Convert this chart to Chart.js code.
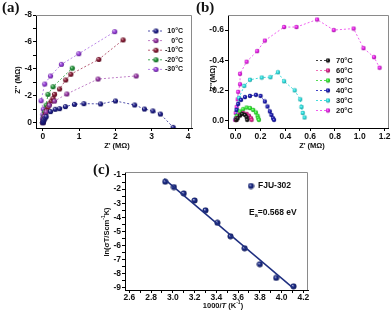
<!DOCTYPE html>
<html><head><meta charset="utf-8">
<script src="https://cdn.jsdelivr.net/npm/chart.js@4/dist/chart.umd.min.js"></script>
<style>
html,body{margin:0;padding:0;background:#fff;width:392px;height:320px;overflow:hidden;}
canvas{position:absolute;}
</style></head><body>
<canvas id="ca" style="left:0;top:0;width:196px;height:160px" width="196" height="160"></canvas>
<canvas id="cb" style="left:196px;top:0;width:196px;height:160px" width="196" height="160"></canvas>
<canvas id="cc" style="left:90px;top:150px;width:230px;height:170px" width="230" height="170"></canvas>
<script>
// ---------- Panel (a) data: Nyquist, low temperatures (MΩ) ----------
const aLabels = ['10°C', '0°C', '-10°C', '-20°C', '-30°C'];
const a10X = [0.0, 0.01, 0.03, 0.06, 0.09, 0.21, 0.34, 0.46, 0.62, 0.87, 1.13, 1.59, 2.00, 2.53, 2.80, 3.03, 3.24, 3.59];
const a10Y = [0.0, -0.08, -0.2, -0.33, -0.45, -0.82, -0.99, -1.04, -1.19, -1.36, -1.41, -1.39, -1.61, -1.31, -1.01, -0.87, -0.64, 0.35];
const a0X = [0.0, 0.01, 0.02, 0.04, 0.09, 0.18, 0.32, 0.66, 1.52, 2.57];
const a0Y = [0.0, -0.1, -0.22, -0.45, -0.8, -1.3, -1.6, -2.13, -3.24, -3.47];
const aM10X = [0.0, 0.02, 0.04, 0.07, 0.1, 0.14, 0.18, 0.23, 0.28, 0.32, 0.46, 0.63, 0.77, 1.54, 2.21];
const aM10Y = [0.0, -0.2, -0.4, -0.65, -0.9, -1.15, -1.4, -1.6, -1.8, -2.1, -2.5, -3.17, -3.6, -4.7, -6.15];
const aM20X = [0.0, 0.01, 0.03, 0.05, 0.09, 0.14, 0.28, 0.81];
const aM20Y = [0.0, -0.2, -0.45, -0.8, -1.3, -2.1, -2.67, -4.05];
const aM30X = [0.0, -0.01, 0.0, 0.01, -0.05, 0.05, 0.21, 0.51, 0.99, 1.98];
const aM30Y = [0.0, -0.3, -0.6, -1.0, -1.63, -2.87, -3.47, -4.33, -5.12, -6.76];
const aXTicks = [0, 1, 2, 3, 4];
const aXTickLabels = ['0', '1', '2', '3', '4'];
const aYTicks = [-8, -7, -6, -5, -4, -3, -2, -1, 0];
const aYTickLabels = ['-8', '', '-6', '', '-4', '', '-2', '', '0'];

// ---------- Panel (b) data: Nyquist, high temperatures (MΩ) ----------
const bLabels = ['70°C', '60°C', '50°C', '40°C', '30°C', '20°C'];
const b70X = [0.005, 0.016, 0.035, 0.053, 0.075, 0.088, 0.093];
const b70Y = [-0.004, -0.015, -0.033, -0.044, -0.037, -0.022, -0.004];
const b60X = [0.004, 0.008, 0.035, 0.061, 0.088, 0.107, 0.123, 0.128];
const b60Y = [-0.004, -0.015, -0.038, -0.049, -0.044, -0.031, -0.015, -0.004];
const b50X = [0.003, 0.008, 0.035, 0.06, 0.088, 0.115, 0.141, 0.163, 0.176, 0.181, 0.187];
const b50Y = [-0.005, -0.03, -0.06, -0.075, -0.086, -0.082, -0.07, -0.053, -0.031, -0.015, -0.004];
const b40X = [0.002, 0.008, 0.02, 0.043, 0.075, 0.115, 0.163, 0.2, 0.235, 0.256, 0.275, 0.288, 0.301, 0.309];
const b40Y = [-0.01, -0.07, -0.11, -0.137, -0.155, -0.163, -0.17, -0.163, -0.126, -0.093, -0.06, -0.037, -0.015, -0.004];
const b30X = [0.0, 0.008, 0.027, 0.069, 0.115, 0.21, 0.28, 0.34, 0.39, 0.475, 0.52, 0.53, 0.54, 0.555];
const b30Y = [-0.015, -0.07, -0.15, -0.23, -0.27, -0.285, -0.287, -0.32, -0.26, -0.2, -0.14, -0.09, -0.05, -0.02];
const b20X = [-0.005, 0.0, 0.008, 0.016, 0.02, 0.035, 0.035, 0.088, 0.173, 0.235, 0.39, 0.49, 0.656, 0.79, 0.95, 1.03, 1.115, 1.16];
const b20Y = [-0.004, -0.05, -0.09, -0.14, -0.19, -0.24, -0.31, -0.39, -0.46, -0.53, -0.62, -0.62, -0.67, -0.60, -0.61, -0.48, -0.42, -0.35];
const bXTicks = [0, 0.2, 0.4, 0.6, 0.8, 1.0, 1.2];
const bXTickLabels = ['0.0', '0.2', '0.4', '0.6', '0.8', '1.0', '1.2'];
const bYTicks = [-0.6, -0.4, -0.2, 0];
const bYTickLabels = ['-0.6', '-0.4', '-0.2', '0.0'];

// ---------- Panel (c) data: Arrhenius plot ----------
const cSeriesName = 'FJU-302';
const cX = [2.93, 3.01, 3.10, 3.20, 3.30, 3.41, 3.53, 3.66, 3.80, 3.95, 4.11];
const cY = [-1.48, -1.86, -2.31, -2.81, -3.51, -4.39, -5.35, -6.2, -7.33, -8.3, -8.9];
const cFitX = [2.92, 4.11];
const cFitY = [-1.28, -9.04];
const cXTicks = [2.6, 2.7, 2.8, 2.9, 3.0, 3.1, 3.2, 3.3, 3.4, 3.5, 3.6, 3.7, 3.8, 3.9, 4.0, 4.1, 4.2];
const cXTickLabels = ['2.6', '', '2.8', '', '3.0', '', '3.2', '', '3.4', '', '3.6', '', '3.8', '', '4.0', '', '4.2'];
const cYTicks = [-9, -8.5, -8, -7.5, -7, -6.5, -6, -5.5, -5, -4.5, -4, -3.5, -3, -2.5, -2, -1.5, -1];
const cYTickLabels = ['-9', '', '-8', '', '-7', '', '-6', '', '-5', '', '-4', '', '-3', '', '-2', '', '-1'];

// ---------- helpers ----------
const SANS = "'Liberation Sans', Arial, sans-serif";
const SERIF = "'Liberation Serif', 'Times New Roman', serif";
function pts(xs, ys) { return xs.map((x, i) => ({x: x, y: ys[i]})); }
function mix(hex, t, target) {
  const n = parseInt(hex.slice(1), 16);
  const r = (n >> 16) & 255, g = (n >> 8) & 255, b = n & 255;
  const f = v => Math.round(v + (target - v) * t);
  return 'rgb(' + f(r) + ',' + f(g) + ',' + f(b) + ')';
}
function ball(col, r) {
  const s = Math.ceil(r * 2 + 1);
  const c = document.createElement('canvas'); c.width = s; c.height = s;
  const g = c.getContext('2d');
  const cx = s / 2, cy = s / 2;
  const gr = g.createRadialGradient(cx - r * 0.35, cy - r * 0.35, r * 0.05, cx, cy, r);
  gr.addColorStop(0, mix(col, 0.65, 255));
  gr.addColorStop(0.45, col);
  gr.addColorStop(1, mix(col, 0.35, 0));
  g.fillStyle = gr; g.beginPath(); g.arc(cx, cy, r, 0, Math.PI * 2); g.fill();
  return c;
}
function ds(label, xs, ys, ptCol, lineCol, r, dashed) {
  return {
    label: label, data: pts(xs, ys), showLine: true,
    borderColor: lineCol, borderWidth: 1, borderDash: dashed ? [2, 2] : [],
    pointStyle: ball(ptCol, r), pointRadius: r, pointHoverRadius: r,
    backgroundColor: ptCol, tension: 0
  };
}
function axis(min, max, ticks, labels, reverse, fit, fontSize, pad) {
  return {
    type: 'linear', min: min, max: max, reverse: !!reverse,
    afterBuildTicks: s => { s.ticks = ticks.map(v => ({value: v})); },
    afterFit: fit,
    grid: {display: true, drawOnChartArea: false, drawTicks: true, tickLength: 3, color: '#000', lineWidth: 1},
    border: {display: true, color: '#000', width: 1},
    ticks: {autoSkip: false, maxRotation: 0, minRotation: 0, padding: (pad === undefined ? 1 : pad), color: '#111',
      font: {family: SANS, size: fontSize, weight: 'bold'},
      callback: (v, i) => labels[i]}
  };
}
function drawRich(ctx, item) {
  ctx.save();
  ctx.translate(item.x, item.y);
  if (item.rot) ctx.rotate(item.rot);
  ctx.textBaseline = 'middle';
  ctx.fillStyle = item.color || '#111';
  let w = 0;
  item.segs.forEach(s => { ctx.font = s.f; w += ctx.measureText(s.t).width; });
  let x = item.align === 'left' ? 0 : (item.align === 'right' ? -w : -w / 2);
  item.segs.forEach(s => {
    ctx.font = s.f; ctx.textAlign = 'left';
    ctx.fillText(s.t, x, s.dy || 0);
    x += ctx.measureText(s.t).width;
  });
  ctx.restore();
}
const deco = {
  id: 'deco',
  afterDraw(chart, args, o) {
    const ctx = chart.ctx, ca = chart.chartArea;
    ctx.save();
    ctx.strokeStyle = '#8a8a8a'; ctx.lineWidth = 1;
    ctx.beginPath();
    ctx.moveTo(ca.left, Math.round(ca.top) + 0.5); ctx.lineTo(Math.round(ca.right) - 0.5, Math.round(ca.top) + 0.5);
    ctx.lineTo(Math.round(ca.right) - 0.5, ca.bottom);
    ctx.stroke();
    if (o.legend) {
      const L = o.legend;
      chart.data.datasets.forEach((d, i) => {
        if (d.noLegend) return;
        const y = L.y + i * L.dy;
        if (L.line) {
          ctx.strokeStyle = d.borderColor; ctx.lineWidth = 1; ctx.setLineDash(d.borderDash || []);
          ctx.beginPath(); ctx.moveTo(L.x0, y); ctx.lineTo(L.x1, y); ctx.stroke();
          ctx.setLineDash([]);
        }
        const img = d.pointStyle;
        ctx.drawImage(img, L.mx - img.width / 2, y - img.height / 2);
        ctx.font = L.font; ctx.fillStyle = '#111'; ctx.textBaseline = 'middle';
        ctx.textAlign = L.align || 'left';
        ctx.fillText(d.label, L.tx, y);
      });
    }
    (o.texts || []).forEach(t => drawRich(ctx, t));
    ctx.restore();
  }
};
Chart.register(deco);
function make(id, datasets, xs, ys, pad, decoOpts) {
  return new Chart(document.getElementById(id), {
    type: 'scatter',
    data: {datasets: datasets},
    options: {
      responsive: false, animation: false, devicePixelRatio: 1,
      layout: {padding: pad},
      plugins: {legend: {display: false}, tooltip: {enabled: false}, deco: decoOpts},
      scales: {x: xs, y: ys}
    }
  });
}

// ---------- Panel (a) ----------
const fB = s => 'bold ' + s + 'px ' + SANS;
make('ca', [
  ds(aLabels[0], a10X, a10Y, '#1e1e8c', '#5050aa', 2.6, true),
  ds(aLabels[1], a0X, a0Y, '#9a35a8', '#c080c8', 2.6, true),
  ds(aLabels[2], aM10X, aM10Y, '#8a1a35', '#b86078', 2.6, true),
  ds(aLabels[3], aM20X, aM20Y, '#22993a', '#48aa58', 2.6, true),
  ds(aLabels[4], aM30X, aM30Y, '#9b40e0', '#bb88e8', 2.6, true)
],
  axis(-0.19, 4.11, aXTicks, aXTickLabels, false, s => { s.height = 32; }, 8.5),
  axis(-8, 0.4, aYTicks, aYTickLabels, true, s => { s.width = 36; }, 8.5),
  {top: 15, right: 4, left: 0, bottom: 0},
  {
    legend: {line: true, x0: 148, x1: 163, mx: 156, tx: 183, align: 'right', y: 31, dy: 9.6, font: fB(7)},
    texts: [
      {x: 2, y: 8, align: 'left', segs: [{t: '(a)', f: 'bold 15px ' + SERIF}]},
      {x: 18, y: 80, rot: -Math.PI / 2, segs: [{t: "Z'' (MΩ)", f: fB(7.5)}]},
      {x: 117, y: 146, segs: [{t: "Z' (MΩ)", f: fB(7.5)}]}
    ]
  });

// ---------- Panel (b) ----------
make('cb', [
  ds(bLabels[0], b70X, b70Y, '#151515', '#444444', 2.2, true),
  ds(bLabels[1], b60X, b60Y, '#e0208c', '#f070b8', 2.2, true),
  ds(bLabels[2], b50X, b50Y, '#33ee33', '#55dd55', 2.2, true),
  ds(bLabels[3], b40X, b40Y, '#1a1ab4', '#4545c8', 2.2, true),
  ds(bLabels[4], b30X, b30Y, '#2ee6e6', '#44dddd', 2.2, true),
  ds(bLabels[5], b20X, b20Y, '#ee22ee', '#f060f0', 2.2, true)
],
  axis(-0.062, 1.234, bXTicks, bXTickLabels, false, s => { s.height = 32; }, 8.5),
  axis(-0.7, 0.05, bYTicks, bYTickLabels, true, s => { s.width = 32; }, 8.5),
  {top: 15, right: 2, left: 0, bottom: 0},
  {
    legend: {line: true, x0: 120, x1: 136, mx: 132, tx: 140, align: 'left', y: 60.5, dy: 10, font: fB(7.5)},
    texts: [
      {x: 0, y: 8, align: 'left', segs: [{t: '(b)', f: 'bold 15px ' + SERIF}]},
      {x: 17, y: 78, rot: -Math.PI / 2, segs: [{t: "Z''(MΩ)", f: fB(7.5)}]},
      {x: 116, y: 146, segs: [{t: "Z' (MΩ)", f: fB(7.5)}]}
    ]
  });

// ---------- Panel (c) ----------
const cPts = ds(cSeriesName, cX, cY, '#1a2a88', '#1a2a88', 3, false);
cPts.showLine = false;
const cFit = {label: 'fit', noLegend: true, data: pts(cFitX, cFitY), showLine: true,
  borderColor: '#1f2f80', borderWidth: 1.5, pointRadius: 0, tension: 0};
make('cc', [cFit, cPts],
  axis(2.56, 4.243, cXTicks, cXTickLabels, false, s => { s.height = 30; }, 8.5, 0),
  axis(-9.16, -0.79, cYTicks, cYTickLabels, false, s => { s.width = 35; }, 8.5),
  {top: 22, right: 12, left: 0, bottom: 0},
  {
    legend: {line: false, mx: 161, tx: 168, align: 'left', y: 36, dy: 0, font: fB(8.5)},
    texts: [
      {x: 3, y: 20, align: 'left', segs: [{t: '(c)', f: 'bold 15px ' + SERIF}]},
      {x: 16.5, y: 82, rot: -Math.PI / 2, segs: [
        {t: 'ln(σT/Scm', f: fB(7.5)}, {t: '-1', f: fB(5), dy: -3}, {t: 'K)', f: fB(7.5)}]},
      {x: 133, y: 156, segs: [
        {t: '1000/', f: fB(7.5)}, {t: 'T', f: 'italic bold 7.5px ' + SANS}, {t: ' (K', f: fB(7.5)},
        {t: '-1', f: fB(5), dy: -3}, {t: ')', f: fB(7.5)}]},
      {x: 159, y: 63, align: 'left', segs: [
        {t: 'E', f: fB(8.5)}, {t: 'a', f: fB(5.5), dy: 2.5}, {t: '=0.568 eV', f: fB(8.5)}]}
    ]
  });
</script>
</body></html>
